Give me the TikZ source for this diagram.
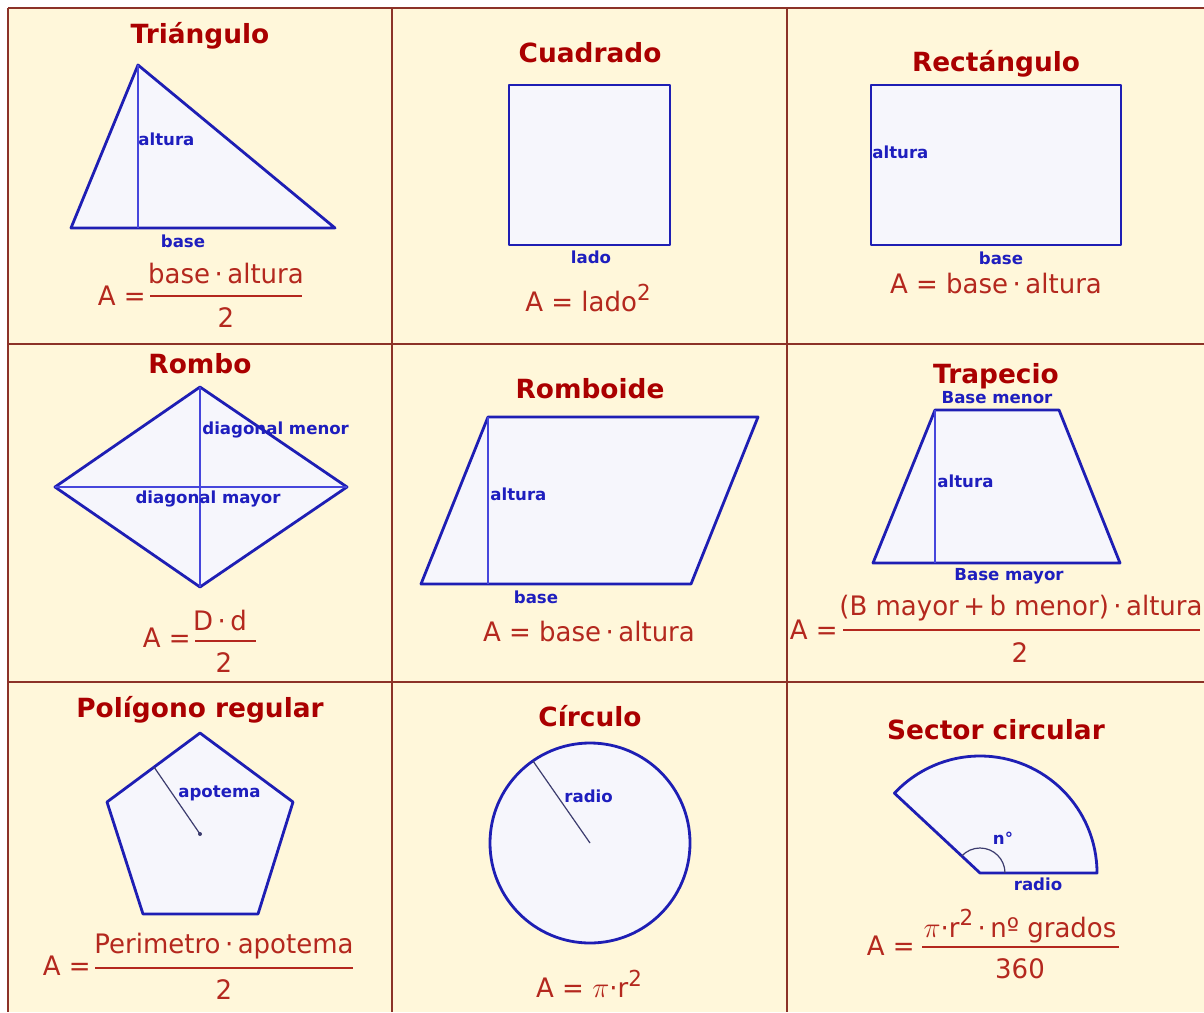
\documentclass[tikz,border=0pt]{standalone}
\usepackage{fontspec}
\setmainfont{DejaVu Sans}
\newfontfamily\fmlfont[FakeStretch=0.97]{DejaVu Sans}
\definecolor{cream}{RGB}{255,247,218}
\definecolor{gridc}{RGB}{140,50,40}
\definecolor{titlec}{RGB}{170,0,0}
\definecolor{fmlc}{RGB}{180,40,30}
\definecolor{shapec}{RGB}{30,30,180}
\definecolor{labc}{RGB}{30,30,190}
\definecolor{innerc}{RGB}{70,70,220}
\definecolor{fillc}{RGB}{246,246,252}
\definecolor{apoc}{RGB}{60,60,110}
\newcommand{\sqr}{\raisebox{0.42em}{\fontsize{11}{12}\selectfont 2}}
\tikzset{
  ttl/.style={text=titlec, font=\fontsize{13.2}{15}\selectfont\bfseries, inner sep=0pt},
  lab/.style={text=labc, font=\fontsize{8.3}{9}\selectfont\bfseries, inner sep=0pt},
  fml/.style={text=fmlc, font=\fmlfont\fontsize{13.4}{15}\selectfont, inner sep=0pt},
  fmlrule/.style={draw=fmlc, line width=0.6pt},
  shp/.style={draw=shapec, fill=fillc, line width=1.4pt, line join=round},
  inner/.style={draw=innerc, line width=0.7pt},
  apo/.style={draw=apoc, line width=0.6pt},
  gridl/.style={draw=gridc, line width=1pt}
}
\begin{document}
\begin{tikzpicture}[x=0.5pt,y=-0.5pt]
\useasboundingbox (0,0) rectangle (1204,1012);
\fill[white] (0,0) rectangle (1204,1012);
\fill[cream] (8,8) rectangle (1204,1012);
% grid
\draw[gridl] (8,8) -- (1204,8);
\draw[gridl] (8,344) -- (1204,344);
\draw[gridl] (8,682) -- (1204,682);
\draw[gridl] (8,8) -- (8,1012);
\draw[gridl] (392,8) -- (392,1012);
\draw[gridl] (787,8) -- (787,1012);

% ---------- Triangulo ----------
\node[ttl] (t1) at (200,36) {Triángulo};
\draw[shp] (138,65) -- (335,228) -- (71,228) -- cycle;
\draw[inner] (138,65) -- (138,228);
\node[lab, anchor=west] (l1a) at (138,139) {altura};
\node[lab] (l1b) at (183,241) {base};
\node[fml, anchor=east] (f1a) at (146,296) {A =};
\node[fml] (f1n) at (226,274) {base\,·\,altura};
\draw[fmlrule] (150,296) -- (302,296);
\node[fml] (f1d) at (226,318) {2};

% ---------- Cuadrado ----------
\node[ttl] (t2) at (590,53) {Cuadrado};
\draw[shp] (509,85) rectangle (670,245);
\node[lab] (l2a) at (591,257) {lado};
\node[fml] (f2) at (588,298) {A = lado\sqr};

% ---------- Rectangulo ----------
\node[ttl] (t3) at (996,64) {Rectángulo};
\draw[shp] (871,85) rectangle (1121,245);
\node[lab, anchor=west] (l3a) at (872,152) {altura};
\node[lab] (l3b) at (1001,258) {base};
\node[fml] (f3) at (996,284) {A = base\,·\,altura};

% ---------- Rombo ----------
\node[ttl] (t4) at (200,364) {Rombo};
\draw[shp] (200,387) -- (347,487) -- (200,587) -- (55,487) -- cycle;
\draw[inner] (200,387) -- (200,587);
\draw[inner] (55,487) -- (347,487);
\node[lab, anchor=west] (l4a) at (202,430) {diagonal menor};
\node[lab] (l4b) at (208,499) {diagonal mayor};
\node[fml, anchor=east] (f4a) at (191,638) {A =};
\node[fml] (f4n) at (220,620) {D\,·\,d};
\draw[fmlrule] (195,641) -- (256,641);
\node[fml] (f4d) at (224,663) {2};

% ---------- Romboide ----------
\node[ttl] (t5) at (590,389) {Romboide};
\draw[shp] (488,417) -- (758,417) -- (691,584) -- (421,584) -- cycle;
\draw[inner] (488,417) -- (488,584);
\node[lab, anchor=west] (l5a) at (490,494) {altura};
\node[lab] (l5b) at (536,597) {base};
\node[fml] (f5) at (589,632) {A = base\,·\,altura};

% ---------- Trapecio ----------
\node[ttl] (t6) at (996,376) {Trapecio};
\node[lab] (l6a) at (997,398) {Base menor};
\draw[shp] (935,410) -- (1059,410) -- (1120,563) -- (873,563) -- cycle;
\draw[inner] (935,410) -- (935,563);
\node[lab, anchor=west] (l6b) at (937,481) {altura};
\node[lab] (l6c) at (1009,576) {Base mayor};
\node[fml, anchor=east] (f6a) at (838,630) {A =};
\node[fml] (f6n) at (1021,608) {(B mayor\,+\,b menor)\,·\,altura};
\draw[fmlrule] (843,630) -- (1200,630);
\node[fml] (f6d) at (1020,653) {2};

% ---------- Poligono regular ----------
\node[ttl] (t7) at (200,710) {Polígono regular};
\draw[shp] (200,733) -- (293,802) -- (258,914) -- (143,914) -- (107,802) -- cycle;
\coordinate (pc) at (200,834);
\coordinate (pa) at (154,767);
\draw[apo] (pa) -- (pc);
\fill[apoc] (pc) circle[radius=2];
\node[lab, anchor=west] (l7a) at (178,793) {apotema};
\node[fml, anchor=east] (f7a) at (91,966) {A =};
\node[fml] (f7n) at (224,946) {Perimetro\,·\,apotema};
\draw[fmlrule] (95,968) -- (353,968);
\node[fml] (f7d) at (224,990) {2};

% ---------- Circulo ----------
\node[ttl] (t8) at (590,716) {Círculo};
\coordinate (cc) at (590,843);
\draw[shp] (cc) circle[radius=100];
\coordinate (cr) at (533,761);
\draw[apo] (cr) -- (cc);
\node[lab, anchor=west] (l8a) at (564,796) {radio};
\node[fml] (f8) at (589,984) {A = \(\pi\)·r\sqr};

% ---------- Sector circular ----------
\node[ttl] (t9) at (996,730) {Sector circular};
\coordinate (sv) at (980,873);
\draw[shp] (sv) -- (1097,873) arc[start angle=0, end angle=-137, radius=117] -- cycle;
\draw[apo] (1005,873) arc[start angle=0, end angle=-137, radius=25];
\node[lab] (l9a) at (1003,838) {n°};
\node[lab] (l9b) at (1038,884) {radio};
\node[fml, anchor=east] (f9a) at (915,946) {A =};
\node[fml] (f9n) at (1020,926) {\(\pi\)·r\sqr\,·\,nº grados};
\draw[fmlrule] (922,947) -- (1119,947);
\node[fml] (f9d) at (1020,969) {360};
\end{tikzpicture}
\end{document}
